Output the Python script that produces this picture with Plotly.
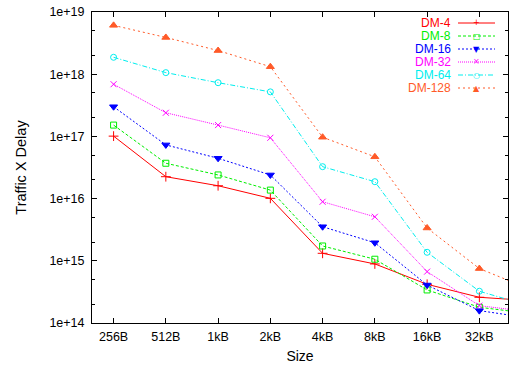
import plotly.graph_objects as go

# ---- data ----
sizes = ["256B", "512B", "1kB", "2kB", "4kB", "8kB", "16kB", "32kB", "64kB"]
dm4 = [1.01e17, 2.25e16, 1.61e16, 1.01e16, 1.32e15, 8.9e14, 4.19e14, 2.59e14, 2.28e14]
dm8 = [1.52e17, 3.7e16, 2.4e16, 1.37e16, 1.73e15, 1.06e15, 3.4e14, 1.79e14, 1.41e14]
dm16 = [3.0e17, 7.3e16, 4.45e16, 2.4e16, 3.53e15, 1.95e15, 4.08e14, 1.58e14, 1.19e14]
dm32 = [6.9e17, 2.4e17, 1.52e17, 9.5e16, 8.9e15, 5.1e15, 6.7e14, 1.9e14, 1.5e14]
dm64 = [1.87e18, 1.06e18, 7.3e17, 5.2e17, 3.26e16, 1.87e16, 1.37e15, 3.24e14, 1.84e14]
dm128 = [6.1e18, 3.9e18, 2.4e18, 1.32e18, 9.7e16, 4.7e16, 3.37e15, 7.5e14, 3.4e14]

series_names = ["DM-4", "DM-8", "DM-16", "DM-32", "DM-64", "DM-128"]
series_values = [dm4, dm8, dm16, dm32, dm64, dm128]
colors = ["#ff0000", "#00ee00", "#0000ff", "#ff00ff", "#00eeee", "#ff5a28"]
dashes = ["solid", "3px,2px", "2px,2px", "1px,1px", "5px,2px,1px,2px", "2px,3px"]
symbols = ["cross-thin-open", "square-open", "triangle-down", "x-thin-open", "circle-open", "triangle-up"]
msizes = [7, 6, 7, 6, 6, 7]
glyphs = ["+", "\u25a1", "\u25bc", "\u00d7", "\u25cb", "\u25b2"]

y_tickvals = [1e14, 1e15, 1e16, 1e17, 1e18, 1e19]
y_ticktext = ["1e+14", "1e+15", "1e+16", "1e+17", "1e+18", "1e+19"]
y_minor = [m * 10 ** e for e in range(14, 19) for m in (2, 5)]

FONT = "Liberation Sans, Arial, sans-serif"

fig = go.Figure()
xs = list(range(len(sizes)))
for name, vals, c, d, s, ms in zip(series_names, series_values, colors, dashes, symbols, msizes):
    fig.add_trace(go.Scatter(
        x=xs, y=vals, name=name, mode="lines+markers",
        line=dict(color=c, width=1, dash=d),
        marker=dict(symbol=s, size=ms, color=c, line=dict(color=c, width=1)),
        showlegend=False, hoverinfo="skip",
    ))

# custom gnuplot-style key (text right-aligned, sample to the right)
L, R, T, B = 92, 508, 12, 323
W, H = R - L, B - T
def px(x):
    return (x - L) / W
def py(y):
    return 1 - (y - T) / H

row0, rowgap = 23.0, 13.0
for i, (name, c, d, g) in enumerate(zip(series_names, colors, dashes, glyphs)):
    yy = row0 + i * rowgap
    fig.add_annotation(xref="paper", yref="paper", x=px(452), y=py(yy), text=name,
                       showarrow=False, xanchor="right", yanchor="middle", borderpad=0,
                       font=dict(family=FONT, size=12, color=c))
    fig.add_shape(type="line", xref="paper", yref="paper",
                  x0=px(458), x1=px(495), y0=py(yy), y1=py(yy),
                  line=dict(color=c, width=1, dash=d))
    fig.add_annotation(xref="paper", yref="paper", x=px(476.5), y=py(yy), text=g,
                       showarrow=False, xanchor="center", yanchor="middle", borderpad=0,
                       font=dict(family="DejaVu Sans", size=8, color=c))

fig.update_layout(
    width=510, height=370,
    margin=dict(l=L, r=510 - R, t=T, b=370 - B),
    paper_bgcolor="white", plot_bgcolor="white",
    font=dict(family=FONT, size=12.5, color="black"),
    hovermode=False,
)
fig.update_xaxes(
    range=[-0.413, 7.548], tickmode="array", tickvals=xs, ticktext=sizes,
    ticks="inside", ticklen=5, tickcolor="black", tickwidth=1,
    showline=True, linecolor="black", linewidth=1, mirror="ticks",
    showgrid=False, zeroline=False, automargin=False,
    ticklabelstandoff=2,
    title=dict(text="Size", standoff=8, font=dict(size=14)),
    tickfont=dict(size=12.5),
)
fig.update_yaxes(
    type="log", range=[14, 19], tickmode="array", tickvals=y_tickvals, ticktext=y_ticktext,
    ticks="inside", ticklen=5, tickcolor="black", tickwidth=1,
    minor=dict(ticks="inside", ticklen=3, tickcolor="black", tickvals=y_minor, showgrid=False),
    showline=True, linecolor="black", linewidth=1, mirror="ticks",
    showgrid=False, zeroline=False, automargin=False,
    ticklabelstandoff=4,
    title=dict(text="Traffic X Delay", standoff=19, font=dict(size=14.5)),
    tickfont=dict(size=12.5),
)

fig.write_html("out.html", config={"displayModeBar": False},
               post_script="document.body.style.margin='0px';")
